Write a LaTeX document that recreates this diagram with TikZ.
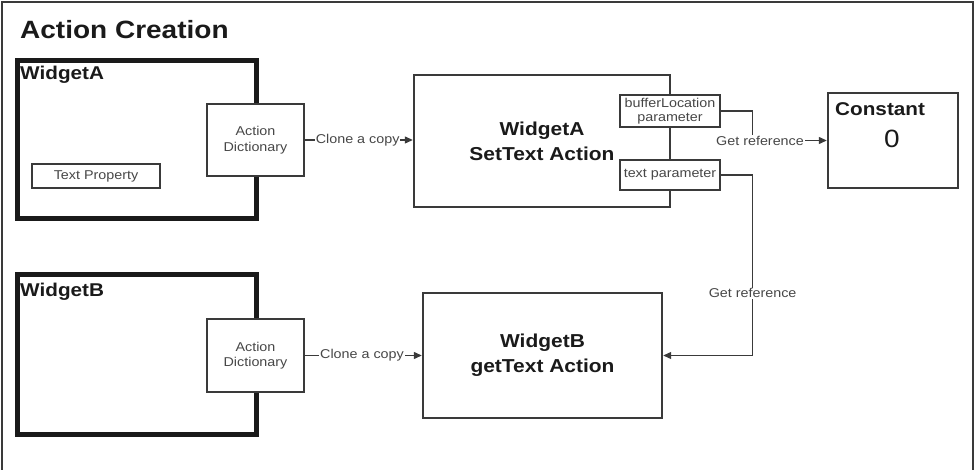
\documentclass[tikz,border=0pt]{standalone}
\usepackage{fontspec}
\setmainfont{Liberation Sans}[FakeStretch=1.12]
\usetikzlibrary{arrows.meta}
\definecolor{lg}{HTML}{3A3A3A}
\definecolor{tg}{HTML}{474747}
\definecolor{bk}{HTML}{1A1A1A}
\tikzset{
  widget/.style={draw=bk,line width=5pt,rectangle,inner sep=0pt},
  small/.style={draw=lg,line width=1.2pt,fill=white,rectangle,inner sep=0pt,align=center,text=tg,font=\fontsize{12.8}{15.5}\selectfont},
  action/.style={draw=lg,line width=2.4pt,fill=white,rectangle,inner sep=0pt,align=center,text=bk,font=\fontsize{18.7}{25}\selectfont\bfseries},
  lbl/.style={fill=white,inner sep=1pt,text=tg,font=\fontsize{12.8}{15}\selectfont},
  conn/.style={draw=lg,line width=1.2pt},
  arr/.style={conn,-{Triangle[length=8pt,width=7pt]}},
  boldlbl/.style={inner sep=0pt,anchor=base west,text=bk,font=\fontsize{18.5}{22}\selectfont\bfseries}
}
\begin{document}
\begin{tikzpicture}[x=1pt,y=-1pt]
\useasboundingbox (0,0) rectangle (978,470);
\draw[lg,line width=1.8pt] (2,472) -- (2,2) -- (973,2) -- (973,472);
\node[inner sep=0pt,anchor=base west,text=bk,font=\fontsize{25}{30}\selectfont\bfseries] (title) at (20,39) {Action Creation};
% Widget A
\node[widget,minimum width=239pt,minimum height=158pt] (widA) at (136.5,140) {};
\node[boldlbl] (widAl) at (20,80) {WidgetA};
\node[small,minimum width=128pt,minimum height=24pt] (tprop) at (96,176) {Text Property};
\node[small,minimum width=97pt,minimum height=72pt] (dictA) at (255.5,140) {Action\\Dictionary};
% Widget B
\node[widget,minimum width=239pt,minimum height=160pt] (widB) at (136.5,355) {};
\node[boldlbl] (widBl) at (20,297) {WidgetB};
\node[small,minimum width=97pt,minimum height=73pt] (dictB) at (255.5,355.5) {Action\\Dictionary};
% actions
\node[action,minimum width=256pt,minimum height=132pt] (setA) at (542,141) {WidgetA\\SetText Action};
\node[action,minimum width=239pt,minimum height=125pt] (getB) at (542.5,355.5) {WidgetB\\getText Action};
\node[small,minimum width=100pt,minimum height=32pt,font=\fontsize{12.8}{14}\selectfont] (buf) at (670,111) {bufferLocation\\parameter};
\node[small,minimum width=100pt,minimum height=30pt] (tpar) at (670,175) {text parameter};
% constant
\node[draw=lg,line width=2.4pt,rectangle,inner sep=0pt,minimum width=130pt,minimum height=95pt] (const) at (893,140.5) {};
\node[boldlbl] (constl) at (835,116) {Constant};
\node[inner sep=0pt,text=bk,font=\fontsize{25}{30}\selectfont] (zero) at (892,139) {0};
% connectors
\draw[arr] (dictA.east) -- node[lbl,pos=0.49]{Clone a copy} (dictA.east -| setA.west);
\draw[arr] (dictB.east) -- node[lbl,pos=0.49]{Clone a copy} (dictB.east -| getB.west);
\draw[arr] (buf.east) -- ++(32,0) |- node[lbl,pos=0.55]{Get reference} (const.west);
\draw[arr] (tpar.east) -- ++(32,0) |- node[lbl,pos=0.328]{Get reference} (getB.east);
\end{tikzpicture}
\end{document}
